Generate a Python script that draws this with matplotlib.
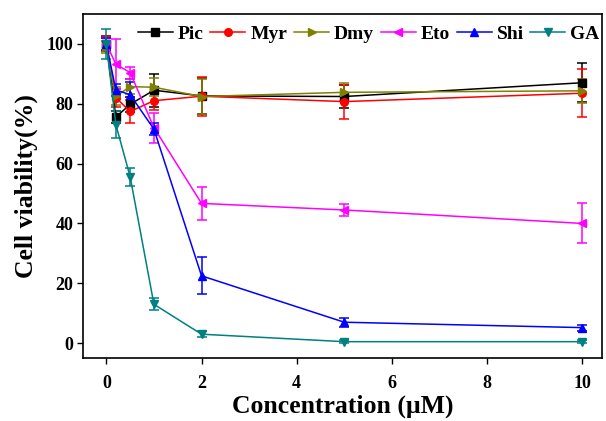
import matplotlib
matplotlib.use("Agg")
import matplotlib.pyplot as plt

conc = [0, 0.2, 0.5, 1, 2, 5, 10]
names = ["Pic", "Myr", "Dmy", "Eto", "Shi", "GA"]
pic = [100, 75.5, 79.8, 84.5, 82.6, 82.4, 87.0]
pic_err = [2.5, 2.0, 2.5, 5.5, 6.0, 4.0, 6.5]
myr = [100, 82.0, 77.4, 81.0, 82.5, 80.7, 83.5]
myr_err = [2.5, 3.0, 4.0, 3.0, 6.5, 5.7, 8.0]
dmy = [99.0, 82.5, 85.7, 85.5, 82.4, 83.8, 84.3]
dmy_err = [2.0, 3.0, 2.5, 3.0, 6.0, 3.0, 4.0]
eto = [100, 93.2, 90.4, 72.0, 46.7, 44.5, 40.0]
eto_err = [2.0, 8.3, 2.0, 5.0, 5.5, 2.0, 6.7]
shi = [100, 84.6, 83.0, 71.5, 22.5, 7.0, 5.2]
shi_err = [2.0, 2.0, 4.2, 2.0, 6.2, 1.5, 1.0]
ga = [100, 73.0, 55.6, 13.0, 3.0, 0.5, 0.5]
ga_err = [5.0, 4.5, 3.0, 2.0, 1.0, 0.5, 0.5]

series = [pic, myr, dmy, eto, shi, ga]
errs = [pic_err, myr_err, dmy_err, eto_err, shi_err, ga_err]
colors = ["black", "#ff0000", "#808000", "#ff00ff", "#0000ff", "#008080"]
markers = ["s", "o", ">", "<", "^", "v"]

plt.rcParams["font.family"] = ["Liberation Serif", "DejaVu Serif"]
plt.rcParams["font.weight"] = "bold"

fig = plt.figure(figsize=(6.06, 4.21), dpi=100)
ax = fig.add_axes([0.137, 0.150, 0.856, 0.817])

for vals, er, c, m, n in zip(series, errs, colors, markers, names):
    ax.errorbar(conc, vals, yerr=er, color=c, marker=m, markersize=5.5,
                linewidth=1.1, elinewidth=1.1, capsize=3.5, capthick=1.1,
                label=n)

ax.set_xlim(-0.49, 10.41)
ax.set_ylim(-4.9, 110)
ax.set_xticks([0, 2, 4, 6, 8, 10])
ax.set_yticks([0, 20, 40, 60, 80, 100])
ax.tick_params(direction="out", length=4, width=1, labelsize=13)
ax.tick_params(axis="x", pad=8)
ax.tick_params(axis="y", pad=3)
for lab in ax.get_xticklabels() + ax.get_yticklabels():
    lab.set_fontweight("bold")
for s in ax.spines.values():
    s.set_linewidth(1.2)

ax.set_xlabel("Concentration (μM)", fontsize=18.5, fontweight="bold", labelpad=2)
ax.set_ylabel("Cell viability(%)", fontsize=18.5, fontweight="bold", labelpad=6)

handles, labels = ax.get_legend_handles_labels()
handles = [h[0] for h in handles]
ax.legend(handles, labels, loc="upper right", ncol=6, frameon=False,
          prop={"weight": "bold", "size": 14}, handlelength=1.8,
          handletextpad=0.25, columnspacing=0.35, borderaxespad=0.0,
          borderpad=0.25, bbox_to_anchor=(1.005, 0.982))

fig.savefig("out.png", dpi=100)
